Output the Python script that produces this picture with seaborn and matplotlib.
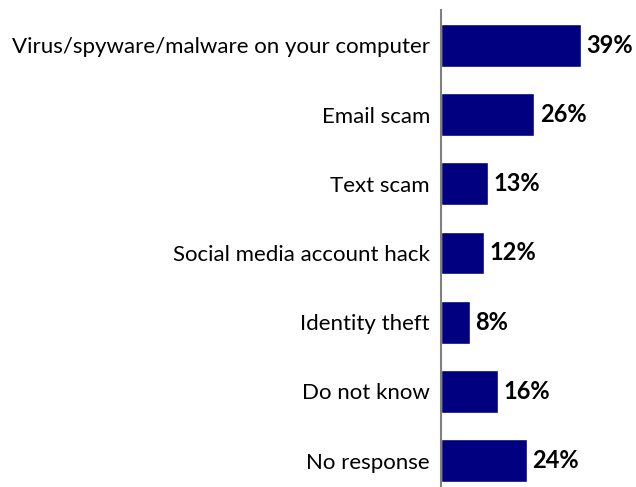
import matplotlib
matplotlib.use("Agg")
import matplotlib.pyplot as plt
import seaborn as sns
import pandas as pd

categories = [
    "Virus/spyware/malware on your computer",
    "Email scam",
    "Text scam",
    "Social media account hack",
    "Identity theft",
    "Do not know",
    "No response",
]
percentages = [39, 26, 13, 12, 8, 16, 24]

df = pd.DataFrame({"category": categories, "pct": percentages})

sns.set_theme(style="white")
plt.rcParams["font.family"] = ["Lato", "DejaVu Sans"]

fig = plt.figure(figsize=(6.36, 4.87), dpi=100)
ax = fig.add_axes([441 / 636, 0.0, 1 - 441 / 636, 1 - 10 / 487])

sns.barplot(data=df, x="pct", y="category", orient="h", color="#000080",
            saturation=1, width=0.62, ax=ax)

ax.set_xlim(0, 54.5)
ax.set_ylim(6.38, -0.51)
ax.set_xlabel("")
ax.set_ylabel("")
ax.set_xticks([])
ax.tick_params(axis="y", length=0, pad=8, labelsize=16, labelcolor="black")

for s in ["top", "right", "bottom"]:
    ax.spines[s].set_visible(False)
ax.spines["left"].set_color("#808080")
ax.spines["left"].set_linewidth(1.5)

for i, v in enumerate(percentages):
    ax.text(v + 1.6, i, f"{v}%", va="center", ha="left",
            fontsize=17, fontweight="bold", color="black")

fig.savefig("out.png", dpi=100)
